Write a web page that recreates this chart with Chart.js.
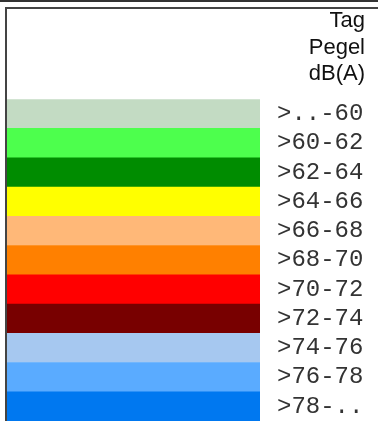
<!DOCTYPE html>
<html>
<head>
<meta charset="utf-8">
<script src="https://cdn.jsdelivr.net/npm/chart.js@4"></script>
<style>
  html, body { margin: 0; padding: 0; background: #fff; }
  #wrap { width: 378px; height: 421px; position: relative; }
</style>
</head>
<body>
<div id="wrap"><canvas id="legendChart" width="378" height="421"></canvas></div>
<script>
const levels = ['>..-60', '>60-62', '>62-64', '>64-66', '>66-68', '>68-70', '>70-72', '>72-74', '>74-76', '>76-78', '>78-..'];
const bandValues = [1, 1, 1, 1, 1, 1, 1, 1, 1, 1, 1];
const bandColors = ['#c3dbc3', '#4dff4d', '#008c00', '#ffff00', '#ffb878', '#ff8000', '#ff0000', '#780000', '#a6c8f0', '#5aabff', '#0078f0'];
const header = ['Tag', 'Pegel', 'dB(A)'];

// frame lines round the legend
const framePlugin = {
  id: 'frame',
  beforeDraw(chart) {
    const c = chart.ctx;
    c.save();
    c.fillStyle = '#333';
    c.fillRect(0, 0, chart.width, 2);
    c.fillStyle = '#444';
    c.fillRect(5, 7, chart.width - 5, 2);
    c.fillRect(5, 7, 2, chart.height - 7);
    c.restore();
  }
};

const ctx = document.getElementById('legendChart').getContext('2d');
new Chart(ctx, {
  type: 'bar',
  data: {
    labels: levels,
    datasets: [{
      data: bandValues,
      backgroundColor: bandColors,
      borderWidth: 0,
      barPercentage: 1,
      categoryPercentage: 1
    }]
  },
  options: {
    indexAxis: 'y',
    responsive: false,
    animation: false,
    layout: { padding: { left: 7, right: 13, top: 0, bottom: 0 } },
    plugins: {
      legend: { display: false },
      tooltip: { enabled: false },
      title: {
        display: true,
        text: header,
        align: 'end',
        color: '#111',
        font: { family: 'Liberation Sans, Arial', size: 22, weight: 'normal', lineHeight: 1.2 },
        padding: { top: 8, bottom: 12 }
      }
    },
    scales: {
      x: { display: false, min: 0, max: 1 },
      y: {
        position: 'right',
        grid: { display: false, drawTicks: false },
        border: { display: false },
        afterFit(scale) {
          scale.width = 105;
          // bands run down to the bottom edge
          scale.paddingTop = 0;
          scale.paddingBottom = 0;
        },
        ticks: {
          padding: 17,
          autoSkip: false,
          color: '#333',
          font: { family: 'Liberation Mono, Courier New, monospace', size: 24, lineHeight: 1 }
        }
      }
    }
  },
  plugins: [framePlugin]
});
</script>
</body>
</html>
